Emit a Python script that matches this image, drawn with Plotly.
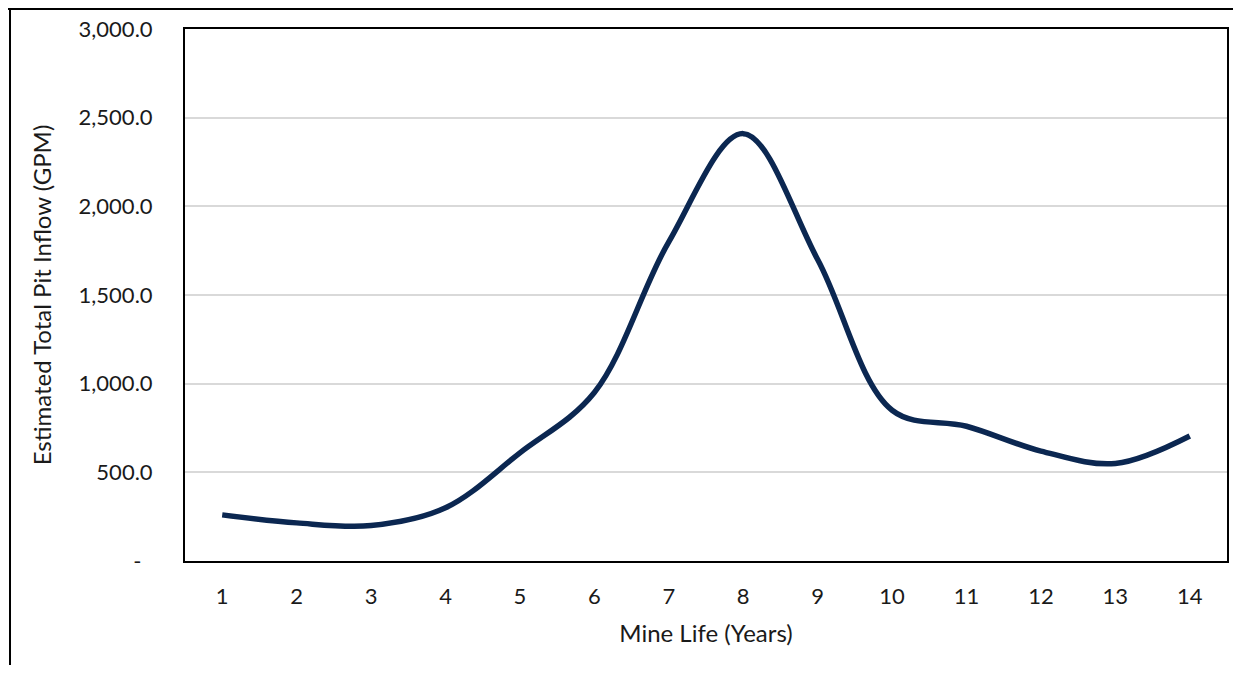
import plotly.graph_objects as go

years = [str(i) for i in range(1, 15)]
inflow_gpm = [260, 215, 200, 300, 610, 950, 1800, 2410, 1700, 850, 760, 620, 550, 705]

y_ticks = [0, 500, 1000, 1500, 2000, 2500, 3000]
y_ticktext = ["-\u00a0\u00a0", "500.0", "1,000.0", "1,500.0", "2,000.0", "2,500.0", "3,000.0"]

FONT = dict(family="Lato, 'Open Sans', sans-serif", size=22, color="#1a1a1a")

fig = go.Figure()
fig.add_trace(go.Scatter(
    x=years, y=inflow_gpm,
    mode="lines",
    line=dict(color="#0b2751", width=5.5, shape="spline", smoothing=1.0),
    showlegend=False,
))

# page body keeps an 8px margin, so the figure starts at (8, 8)
fig.update_layout(
    margin=dict(l=177, r=4, t=21, b=104),
    paper_bgcolor="white",
    plot_bgcolor="white",
    font=FONT,
)

fig.update_xaxes(
    type="category", range=[-0.5, 13.5],
    title=dict(text="Mine Life (Years)", font=dict(size=24), standoff=17),
    showline=True, linecolor="black", linewidth=2, mirror=True,
    showgrid=False, ticks="", ticklabelstandoff=15,
)
fig.update_yaxes(
    range=[0, 3000],
    tickvals=y_ticks, ticktext=y_ticktext,
    title=dict(text="Estimated Total Pit Inflow (GPM)", font=dict(size=24), standoff=20),
    showline=True, linecolor="black", linewidth=2, mirror=True,
    showgrid=True, gridcolor="#d9d9d9", gridwidth=1.5,
    zeroline=False, ticks="", ticklabelstandoff=26,
)

# outer frame (top and left edges of the original picture)
fig.add_shape(type="line", xref="paper", yref="paper",
              x0=-0.2, x1=1.2, y0=1.0 + 20 / 532, y1=1.0 + 20 / 532,
              line=dict(color="black", width=2))
fig.add_shape(type="line", xref="paper", yref="paper",
              x0=-176 / 1048, x1=-176 / 1048, y0=1.1, y1=-0.3,
              line=dict(color="black", width=2))

fig.write_html("out.html")
